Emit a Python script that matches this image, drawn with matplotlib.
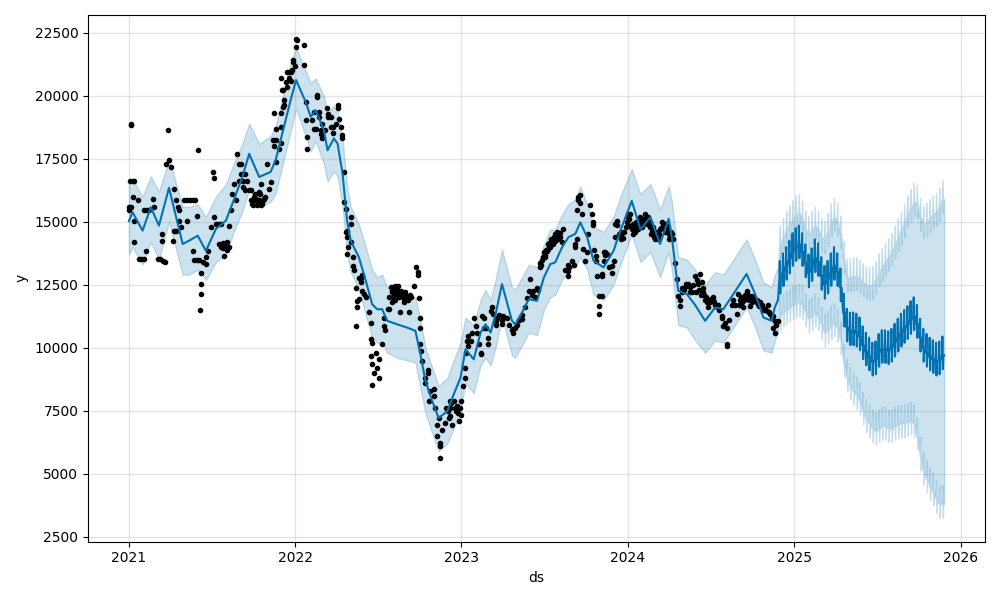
import numpy as np
import pandas as pd
import matplotlib
matplotlib.use("Agg")
import matplotlib.pyplot as plt

START = pd.Timestamp("2021-01-01")

# ---------------- observed points (day offset from 2021-01-01, value) ----------------
obs_days = [
    1, 1, 2, 4, 5, 4, 8, 8, 11, 11, 11, 20, 22, 26, 33, 33, 37, 39, 44, 52, 55, 64, 68, 72, 72, 75, 79, 81, 85, 88,
    92, 96, 99, 99, 103, 103, 107, 110, 110, 114, 121, 127, 127, 134, 140, 140, 143, 146, 149, 149, 151, 153, 156,
    158, 158, 158, 162, 169, 169, 173, 180, 184, 186, 186, 191, 195, 197, 202, 202, 206, 206, 208, 212, 215, 215,
    219, 219, 224, 227, 230, 235, 238, 241, 241, 246, 246, 250, 250, 254, 254, 259, 263, 267, 267, 272, 276, 276,
    281, 285, 285, 289, 289, 294, 298, 304, 308, 311, 316, 319, 319, 322, 322, 324, 329, 333, 333, 333, 333, 335,
    339, 339, 340, 340, 344, 348, 348, 351, 351, 355, 355, 359, 361, 361, 364, 366, 366, 368, 384, 384, 388, 388,
    392, 392, 403, 406, 406, 410, 414, 414, 417, 417, 421, 421, 425, 425, 430, 434, 438, 438, 443, 443, 447, 449,
    454, 458, 458, 461, 465, 467, 467, 472, 472, 476, 476, 479, 479, 479, 482, 487, 487, 487, 491, 491, 494, 498,
    498, 501, 501, 505, 505, 509, 509, 512, 512, 516, 520, 527, 531, 531, 531, 534, 534, 534, 538, 542, 545, 550,
    550, 556, 559, 559, 563, 568, 572, 572, 577, 577, 577, 581, 581, 585, 585, 590, 590, 594, 596, 600, 603, 603,
    607, 612, 615, 618, 626, 631, 634, 634, 636, 639, 639, 640, 642, 644, 651, 651, 656, 656, 658, 662, 669, 669,
    673, 677, 677, 680, 682, 684, 684, 688, 693, 697, 702, 706, 706, 710, 713, 717, 720, 724, 728, 728, 733, 737,
    737, 739, 742, 745, 745, 750, 754, 757, 761, 765, 768, 772, 772, 775, 780, 780, 785, 789, 789, 794, 797, 800,
    805, 805, 809, 813, 818, 818, 822, 830, 835, 840, 844, 844, 848, 853, 857, 863, 863, 870, 874, 878, 881, 885,
    888, 892, 896, 899, 903, 903, 908, 914, 914, 918, 921, 921, 925, 930, 930, 936, 936, 941, 947, 947, 951, 954,
    958, 963, 963, 963, 967, 973, 977, 980, 980, 984, 984, 987, 987, 991, 991, 994, 998, 1002, 1005, 1008, 1013,
    1016, 1018, 1018, 1022, 1025, 1025, 1028, 1031, 1033, 1033, 1039, 1039, 1039, 1042, 1042, 1046, 1046, 1049,
    1053, 1060, 1060, 1064, 1068, 1068, 1072, 1072, 1076, 1081, 1081, 1081, 1084, 1087, 1092, 1096, 1096, 1101,
    1101, 1104, 1107, 1107, 1107, 1112, 1116, 1120, 1125, 1125, 1129, 1136, 1140, 1140, 1145, 1149, 1153, 1153,
    1158, 1162, 1162, 1166, 1173, 1177, 1177, 1182, 1186, 1186, 1190, 1195, 1199, 1203, 1206, 1210, 1210, 1214,
    1214, 1219, 1223, 1223, 1227, 1232, 1232, 1236, 1243, 1246, 1250, 1254, 1257, 1261, 1261, 1265, 1268, 1272,
    1272, 1276, 1283, 1283, 1287, 1291, 1296, 1301, 1301, 1304, 1309, 1312, 1312, 1314, 1317, 1324, 1327, 1331,
    1335, 1338, 1342, 1346, 1348, 1353, 1356, 1360, 1364, 1367, 1371, 1375, 1378, 1382, 1386, 1389, 1393, 1400,
    1403, 1408, 1411, 1415, 1418, 1418, 1421, 1425,
]
obs_values = [
    15450, 15600, 16640, 18830, 18900, 15580, 16640, 15980, 16640, 15050, 14190, 15850, 13530, 13530, 13530, 15450,
    13850, 15450, 15450, 15920, 15580, 13530, 13530, 14530, 14250, 13450, 13400, 17310, 18640, 17440, 17180, 14250,
    14650, 16310, 14650, 15850, 15580, 15450, 15050, 14780, 15850, 15850, 15050, 15850, 15850, 13850, 13500, 15850,
    13500, 15250, 17840, 13500, 11500, 12980, 12530, 12140, 13390, 13340, 13600, 13850, 14780, 16980, 16720, 15180,
    14930, 14930, 14100, 14000, 14930, 13950, 14150, 13650, 14050, 13900, 14200, 14850, 14000, 15450, 16110, 16520,
    15850, 17700, 17300, 16640, 17300, 16900, 16640, 16400, 16900, 16250, 16640, 16250, 16250, 15850, 15650, 15850,
    16100, 15650, 15850, 16200, 16520, 15650, 15850, 16000, 17310, 16310, 16600, 18240, 19310, 18000, 18240, 17380,
    18670, 17900, 18110, 18770, 19310, 20700, 20230, 19560, 20230, 19830, 19620, 20550, 20360, 20950, 20950, 20700,
    20950, 20600, 21030, 21420, 21350, 21200, 22260, 21950, 22200, 22020, 21220, 19760, 19030, 18380, 17910, 19030,
    19370, 18700, 18700, 20030, 19950, 19170, 19370, 18640, 18500, 18310, 18900, 18640, 19500, 19300, 19150, 19150,
    18770, 18510, 18770, 18900, 19630, 19500, 19100, 18770, 18310, 18450, 16980, 15780, 15520, 14610, 14650, 13720,
    14400, 13990, 15180, 14910, 14190, 13260, 13600, 13100, 12390, 10870, 11620, 11850, 11930, 12780, 12780, 12600,
    12260, 12900, 12130, 12000, 11400, 11000, 10350, 9670, 9340, 8540, 10200, 9010, 9800, 9200, 9550, 8810, 10140,
    10870, 11200, 10700, 11540, 11540, 12000, 12200, 12300, 11800, 12100, 12350, 12470, 11900, 12470, 12200, 12000,
    11400, 12100, 12000, 11800, 12200, 11900, 11400, 12100, 12460, 13190, 12900, 13000, 11990, 11200, 10800, 10140,
    9870, 9470, 8600, 8800, 9110, 9000, 7880, 8280, 8360, 8100, 7610, 6950, 6480, 7200, 5620, 6090, 6200, 6750,
    7000, 7600, 7210, 7610, 7900, 6950, 7880, 7480, 7700, 7080, 7880, 7350, 8480, 8810, 9200, 9800, 10270, 10470,
    10070, 10270, 10600, 11200, 10870, 10600, 10140, 9800, 9740, 11270, 11200, 10770, 10800, 10400, 10140, 11460,
    11600, 11340, 11070, 10900, 11200, 11300, 11100, 10930, 11270, 11200, 10900, 10700, 10750, 10600, 10800, 10900,
    11100, 11150, 11300, 11600, 11990, 12260, 12730, 12100, 12260, 12000, 12390, 12300, 13380, 13190, 13500, 13700,
    13600, 13850, 13930, 14100, 14000, 14250, 14100, 14520, 14250, 14300, 14570, 14400, 14190, 14700, 13100, 13060,
    12850, 13300, 13200, 13460, 13300, 13990, 14100, 14320, 15450, 15880, 16000, 16050, 15750, 15320, 13920, 13460,
    13800, 14500, 15650, 15320, 14890, 15000, 13900, 13460, 13650, 12860, 12060, 11660, 11330, 12860, 12930, 12060,
    13460, 13800, 13800, 13700, 13720, 13200, 12960, 13260, 13450, 14930, 14390, 14890, 15050, 14500, 14450, 14300,
    14600, 14370, 14600, 14800, 15330, 15200, 14850, 15320, 14700, 14770, 14500, 14900, 14650, 14800, 14950, 15050,
    14900, 15100, 15170, 15200, 15000, 14800, 14650, 14650, 14400, 14500, 14450, 14300, 14700, 14850, 14900, 14600,
    14850, 14530, 14300, 14600, 14330, 13380, 12740, 12060, 11660, 11900, 12380, 12200, 12300, 12540, 12450, 12540,
    12220, 12400, 12220, 12860, 12200, 12530, 12930, 12100, 12390, 12200, 11900, 12000, 11900, 11600, 11800, 12020,
    11900, 11700, 11600, 11500, 11270, 11200, 10870, 11000, 10140, 10070, 10790, 11100, 11700, 11900, 11700, 11340,
    12130, 11900, 11800, 11600, 12100, 12260, 12100, 11650, 12060, 12000, 11860, 11900, 11730, 11800, 11600, 11500,
    11460, 11700, 11330, 11200, 10800, 11070, 10600, 10900, 11070,
]
# extra observed points in the densest clusters
obs_days_b = [
    270, 274, 279, 283, 287, 292, 296, 575, 579, 583, 588, 592, 598, 605, 610, 620, 700, 704, 708, 715, 722, 726,
    905, 910, 912, 916, 923, 927, 933, 939, 944, 1094, 1099, 1110, 1114, 1118, 1122, 1127, 1131, 1134, 1138, 1143,
    1147, 1151, 1156, 1160, 1164, 1169, 1171, 1175, 1180, 1184, 1188, 1193, 1239, 1248, 1252, 1259, 1263, 1270,
    1279, 1285, 1293, 1340, 1344, 1350, 1358, 1362, 1369, 1373, 1380, 1384, 1391, 1396, 1405, 1413,
]
obs_values_b = [
    15700, 16000, 15900, 15700, 16100, 15700, 15900, 12400, 12000, 12200, 12300, 12100, 12250, 11950, 12050, 12000,
    7500, 7300, 7800, 7600, 7400, 7600, 13300, 13600, 13800, 13900, 14150, 14300, 14400, 14600, 14450, 15000, 15100,
    14600, 15000, 14700, 15200, 14800, 14950, 15300, 14900, 15000, 14500, 14800, 14300, 14600, 14500, 14750, 15000,
    14700, 14650, 14800, 14450, 14500, 12500, 12700, 12300, 12600, 12100, 11800, 11950, 11800, 11700, 11700, 12000,
    11900, 12000, 11900, 11800, 11950, 11800, 11650, 11700, 11550, 11400, 11250,
]

# ---------------- fitted forecast over the history (day offset, yhat, upper, lower) ----------------
hist_days = [
    0, 8, 30, 48, 66, 88, 118, 132, 151, 169, 191, 213, 230, 249, 264, 286, 311, 322, 355, 367, 388, 399, 410,
    428, 436, 450, 458, 469, 479, 487, 505, 520, 534, 545, 556, 567, 589, 611, 629, 640, 651, 666, 680, 699, 713,
    728, 739, 757, 772, 783, 794, 805, 819, 841, 848, 863, 878, 896, 911, 925, 936, 951, 965, 980, 991, 1006,
    1020, 1042, 1064, 1079, 1104, 1123, 1145, 1166, 1185, 1192, 1206, 1225, 1243, 1265, 1287, 1305, 1327, 1356,
    1375, 1393, 1411, 1418, 1425,
]
hist_yhat = [
    15030, 15380, 14650, 15580, 14850, 16350, 14120, 14250, 14450, 13850, 14720, 15050, 15850, 16780, 17700, 16780,
    16980, 17440, 19830, 20630, 19760, 19170, 19430, 18640, 17840, 18310, 18110, 16920, 15050, 14250, 13590, 12660,
    11730, 11530, 11530, 11070, 10930, 10800, 10670, 9740, 8680, 7880, 7210, 7480, 8150, 8810, 9940, 9540, 10600,
    10930, 10600, 11330, 12530, 11070, 10930, 11400, 11930, 11860, 12790, 13320, 13390, 13990, 14390, 14520, 14980,
    14390, 13460, 13190, 13850, 14650, 15830, 14700, 15180, 14120, 15120, 14390, 12260, 12130, 11700, 11070, 11600,
    11530, 12130, 12930, 12130, 11200, 11070, 11600, 11900,
]
hist_upper = [
    16500, 16700, 16000, 16800, 16200, 17500, 15600, 15600, 15700, 15200, 16000, 16500, 17300, 18100, 18900, 18100,
    18400, 18800, 21300, 21900, 21000, 20500, 20700, 20000, 19300, 19600, 19400, 18300, 16400, 15600, 14900, 14000,
    13100, 12800, 12900, 12400, 12300, 12100, 12000, 11100, 10000, 9200, 8500, 8800, 9500, 10200, 11200, 10900,
    11900, 12300, 11900, 12700, 13900, 12400, 12300, 12800, 13300, 13200, 14100, 14700, 14700, 15300, 15700, 15900,
    16400, 15700, 14800, 14600, 15200, 16000, 17100, 16100, 16500, 15500, 16400, 15800, 13600, 13500, 13100, 12500,
    13000, 12900, 13500, 14300, 13500, 12600, 12400, 12900, 13200,
]
hist_lower = [
    13700, 14000, 13300, 14200, 13500, 15000, 12900, 12900, 13100, 12700, 13400, 13700, 14600, 15400, 16300, 15600,
    15800, 16100, 18600, 19500, 18400, 17800, 18200, 17300, 16600, 17000, 16800, 15600, 13700, 13000, 12300, 11300,
    10400, 10200, 10200, 9800, 9600, 9500, 9400, 8400, 7400, 6600, 5900, 6200, 6800, 7500, 8600, 8200, 9300, 9600,
    9300, 10000, 11200, 9700, 9600, 10100, 10600, 10500, 11500, 12000, 12100, 12700, 13100, 13200, 13600, 13100,
    12100, 11900, 12500, 13300, 14500, 13400, 13800, 12800, 13800, 13100, 10900, 10800, 10300, 9800, 10300, 10200,
    10800, 11600, 10800, 9900, 9800, 10300, 10600,
]

# ---------------- future: weekly weekday levels (Fridays from 2024-11-29) ----------------
fut_first_friday = "2024-11-29"
fut_yhat_base = [
    12700, 13000, 13250, 13500, 13800, 14000, 14100, 13800, 13350, 12950, 13200, 13550, 13400, 12850, 12500, 12700,
    13000, 13250, 13000, 12400, 11400, 10800, 10650, 10650, 10600, 10450, 10100, 9850, 9650, 9450, 9500, 9800,
    9950, 9950, 9900, 10000, 10200, 10400, 10600, 10750, 10900, 11100, 11250, 10950, 10400, 10000, 9800, 9650,
    9550, 9450, 9500, 9700,
]
fut_upper_base = [
    14100, 14400, 14700, 14900, 15100, 15300, 15350, 15100, 14700, 14500, 14700, 14850, 14700, 14400, 14300, 14600,
    15000, 15200, 15000, 14500, 13500, 12800, 12800, 12850, 12850, 12750, 12600, 12500, 12450, 12500, 12700, 13000,
    13200, 13400, 13600, 13800, 14100, 14400, 14650, 14950, 15300, 15550, 15800, 15700, 15200, 14900, 15000, 15150,
    15300, 15400, 15600, 15900,
]
fut_lower_base = [
    11300, 11400, 11500, 11600, 11700, 11750, 11800, 11700, 11400, 11150, 11250, 11400, 11250, 10900, 10600, 10700,
    10900, 11000, 10800, 10300, 9400, 8800, 8500, 8300, 8100, 7900, 7500, 7200, 7000, 6800, 6700, 6800, 6900, 6900,
    6800, 6800, 6900, 6950, 7000, 7000, 7050, 7100, 7000, 6500, 5700, 5100, 4800, 4500, 4300, 4000, 3800, 3800,
]
# weekly pattern read from the spikes: Fri, Sat, Sun, Mon
week_day_offsets = [0, 1, 2, 3]
week_effect = [0, 750, -550, 0]
fut_last_day = "2025-11-26"

# ---------------- assemble ----------------
hist_t = START + pd.to_timedelta(hist_days, unit="D")
obs_t = START + pd.to_timedelta(list(obs_days) + list(obs_days_b), unit="D")
obs_all = list(obs_values) + list(obs_values_b)

fut_t, fut_y, fut_u, fut_l = [], [], [], []
first_fri = pd.Timestamp(fut_first_friday)
for k in range(len(fut_yhat_base)):
    fri = first_fri + pd.Timedelta(days=7 * k)
    for off, eff in zip(week_day_offsets, week_effect):
        fut_t.append(fri + pd.Timedelta(days=off))
        fut_y.append(fut_yhat_base[k] + eff)
        fut_u.append(fut_upper_base[k] + eff)
        fut_l.append(fut_lower_base[k] + eff)
fut_t.append(pd.Timestamp(fut_last_day))
fut_y.append(fut_yhat_base[-1])
fut_u.append(fut_upper_base[-1])
fut_l.append(fut_lower_base[-1])

all_t = list(hist_t.to_pydatetime()) + [t.to_pydatetime() for t in fut_t]
all_y = list(hist_yhat) + fut_y
all_u = list(hist_upper) + fut_u
all_l = list(hist_lower) + fut_l

fig = plt.figure(facecolor="w", figsize=(10, 6), dpi=100)
ax = fig.add_subplot(111)
ax.plot(obs_t.to_pydatetime(), obs_all, "k.")
ax.plot(all_t, all_y, ls="-", c="#0072B2")
ax.fill_between(all_t, all_l, all_u, color="#0072B2", alpha=0.2)
ax.grid(True, which="major", c="gray", ls="-", lw=1, alpha=0.2)
ax.set_xlabel("ds")
ax.set_ylabel("y")
fig.tight_layout()
fig.savefig("out.png", dpi=100)
